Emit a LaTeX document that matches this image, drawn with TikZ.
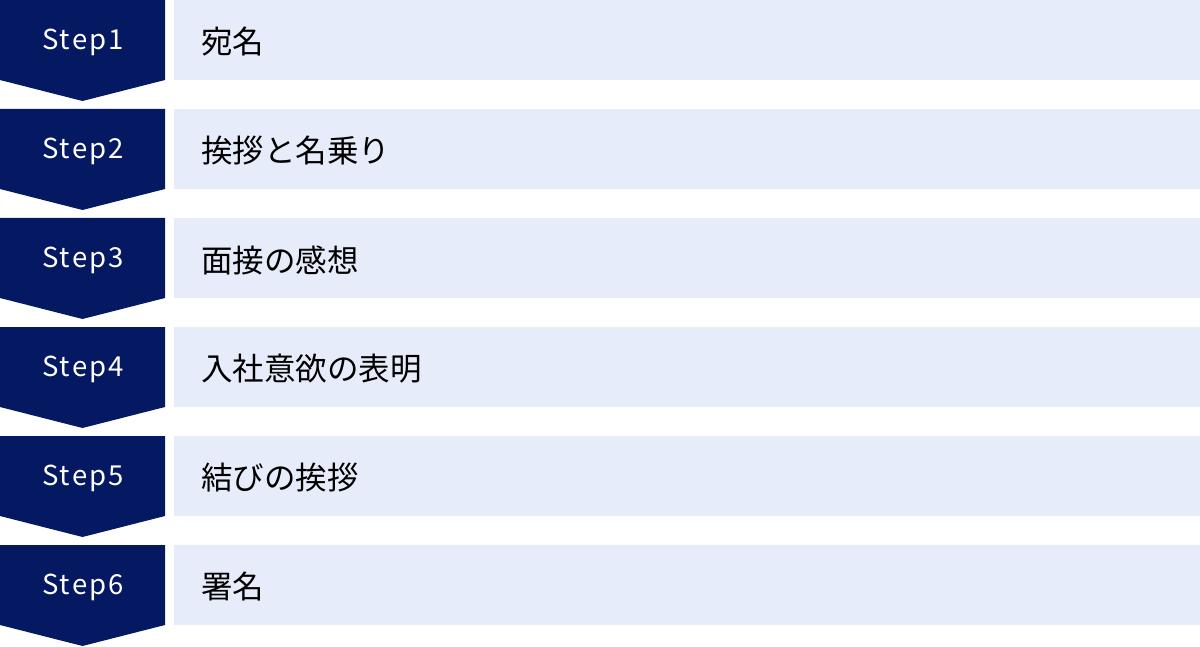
\documentclass[tikz,border=0pt]{standalone}
\usepackage{fontspec}
\setmainfont{Noto Sans CJK JP}
\newfontfamily\cjk{Noto Sans CJK JP}
\definecolor{navy}{HTML}{051862}
\definecolor{pale}{HTML}{E6ECF9}
\tikzset{
  chev/.style={fill=navy, draw=none},
  bar/.style={fill=pale, draw=none},
  steplabel/.style={text=white, font=\cjk\fontsize{27.5}{32}\selectfont, anchor=center},
  itemlabel/.style={text=black, font=\cjk\fontsize{31.5}{37}\selectfont, anchor=west}
}
\begin{document}
\begin{tikzpicture}[x=1pt,y=-1pt]
\useasboundingbox (0,0) rectangle (1200,647);
\foreach \i/\t in {0/宛名,1/挨拶と名乗り,2/面接の感想,3/入社意欲の表明,4/結びの挨拶,5/署名}{
  \pgfmathsetmacro{\yy}{\i*109}
  \pgfmathtruncatemacro{\n}{\i+1}
  \fill[chev] (0,\yy) -- (165,\yy) -- (165,\yy+80) -- (82.5,\yy+101) -- (0,\yy+80) -- cycle;
  \fill[bar] (174,\yy) rectangle (1200,\yy+80);
  \node[steplabel] (s\n) at (83,\yy+42) {\addfontfeatures{LetterSpace=8}Step\n};
  \node[itemlabel] (t\n) at (197.5,\yy+42) {\t};
}
\end{tikzpicture}
\end{document}
